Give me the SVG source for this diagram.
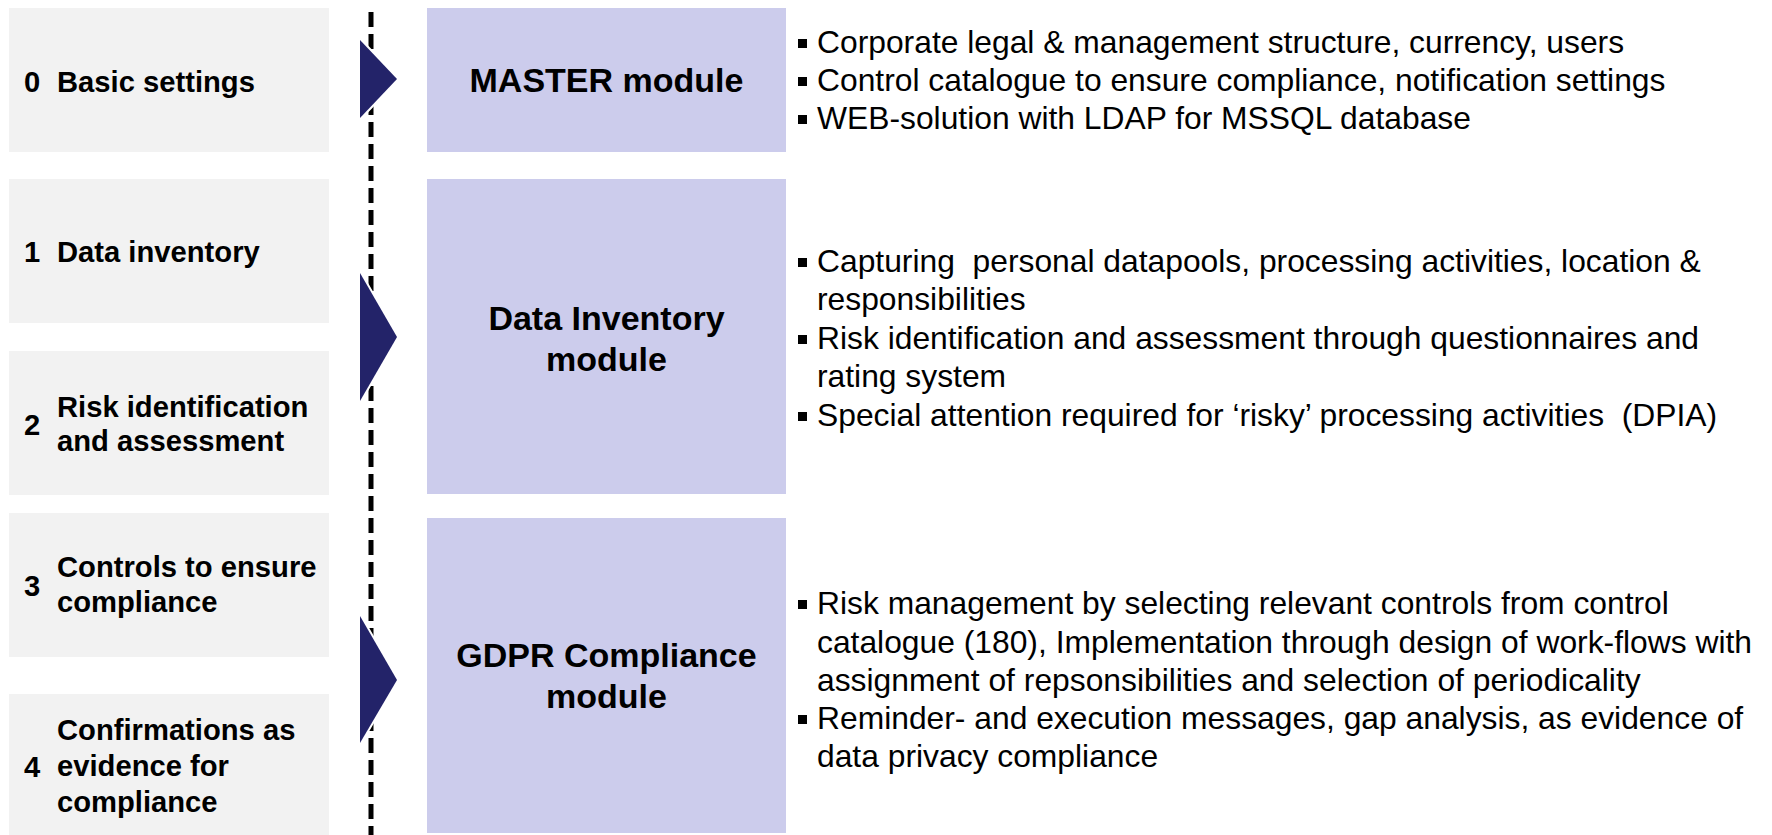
<svg xmlns="http://www.w3.org/2000/svg" width="1772" height="835" viewBox="0 0 1772 835">
<style>
.step{fill:#f2f2f2}
.mod{fill:#ccccec}
.tri{fill:#232369;stroke:#ffffff;stroke-width:4;stroke-linejoin:round;paint-order:stroke}
.lb{font-family:"Liberation Sans",Arial,sans-serif;font-weight:bold;font-size:29.2px;fill:#000}
.ml{font-family:"Liberation Sans",Arial,sans-serif;font-weight:bold;font-size:34px;fill:#000;text-anchor:middle}
.tx{font-family:"Liberation Sans",Arial,sans-serif;font-size:31.8px;fill:#000;white-space:pre}
.bul{fill:#000}
.dash{stroke:#000;stroke-width:5;stroke-dasharray:15 7;fill:none}
</style>
<rect width="1772" height="835" fill="#ffffff"/>

<g id="connectors">
  <line class="dash" x1="371" y1="12" x2="371" y2="835"/>
</g>

<g id="step0">
  <rect class="step" x="9" y="8" width="320" height="144"/>
  <text class="lb" x="24" y="92">0</text>
  <text class="lb" x="57" y="92">Basic settings</text>
</g>
<g id="step1">
  <rect class="step" x="9" y="179" width="320" height="144"/>
  <text class="lb" x="24" y="262">1</text>
  <text class="lb" x="57" y="262">Data inventory</text>
</g>
<g id="step2">
  <rect class="step" x="9" y="351" width="320" height="144"/>
  <text class="lb" x="24" y="435">2</text>
  <text class="lb" x="57" y="417">Risk identification</text>
  <text class="lb" x="57" y="451">and assessment</text>
</g>
<g id="step3">
  <rect class="step" x="9" y="513" width="320" height="144"/>
  <text class="lb" x="24" y="596">3</text>
  <text class="lb" x="57" y="577">Controls to ensure</text>
  <text class="lb" x="57" y="612">compliance</text>
</g>
<g id="step4">
  <rect class="step" x="9" y="694" width="320" height="141"/>
  <text class="lb" x="24" y="777">4</text>
  <text class="lb" x="57" y="740">Confirmations as</text>
  <text class="lb" x="57" y="776">evidence for</text>
  <text class="lb" x="57" y="812">compliance</text>
</g>

<g id="arrow0"><polygon class="tri" points="360,40 397,79 360,118"/></g>
<g id="arrow1"><polygon class="tri" points="360,273 397,337 360,401"/></g>
<g id="arrow2"><polygon class="tri" points="360,616 397,680 360,743"/></g>

<g id="master">
  <rect class="mod" x="427" y="8" width="359" height="144"/>
  <text class="ml" x="606.5" y="92">MASTER module</text>
</g>
<g id="datainv">
  <rect class="mod" x="427" y="179" width="359" height="315"/>
  <text class="ml" x="606.5" y="330">Data Inventory</text>
  <text class="ml" x="606.5" y="371">module</text>
</g>
<g id="gdpr">
  <rect class="mod" x="427" y="518" width="359" height="315"/>
  <text class="ml" x="606.5" y="667">GDPR Compliance</text>
  <text class="ml" x="606.5" y="708">module</text>
</g>

<g id="master-text">
  <rect class="bul" x="798" y="39" width="9" height="9"/>
  <rect class="bul" x="798" y="77" width="9" height="9"/>
  <rect class="bul" x="798" y="115" width="9" height="9"/>
  <text class="tx" x="817" y="53">Corporate legal &amp; management structure, currency, users</text>
  <text class="tx" x="817" y="91">Control catalogue to ensure compliance, notification settings</text>
  <text class="tx" x="817" y="129">WEB-solution with LDAP for MSSQL database</text>
</g>
<g id="datainv-text">
  <rect class="bul" x="798" y="258" width="9" height="9"/>
  <rect class="bul" x="798" y="335" width="9" height="9"/>
  <rect class="bul" x="798" y="412" width="9" height="9"/>
  <text class="tx" x="817" y="272" xml:space="preserve">Capturing  personal datapools, processing activities, location &amp;</text>
  <text class="tx" x="817" y="310">responsibilities</text>
  <text class="tx" x="817" y="349">Risk identification and assessment through questionnaires and</text>
  <text class="tx" x="817" y="387">rating system</text>
  <text class="tx" x="817" y="426" xml:space="preserve">Special attention required for ‘risky’ processing activities  (DPIA)</text>
</g>
<g id="gdpr-text">
  <rect class="bul" x="798" y="600" width="9" height="9"/>
  <rect class="bul" x="798" y="715" width="9" height="9"/>
  <text class="tx" x="817" y="614">Risk management by selecting relevant controls from control</text>
  <text class="tx" x="817" y="653">catalogue (180), Implementation through design of work-flows with</text>
  <text class="tx" x="817" y="691">assignment of repsonsibilities and selection of periodicality</text>
  <text class="tx" x="817" y="729">Reminder- and execution messages, gap analysis, as evidence of</text>
  <text class="tx" x="817" y="767">data privacy compliance</text>
</g>
</svg>
